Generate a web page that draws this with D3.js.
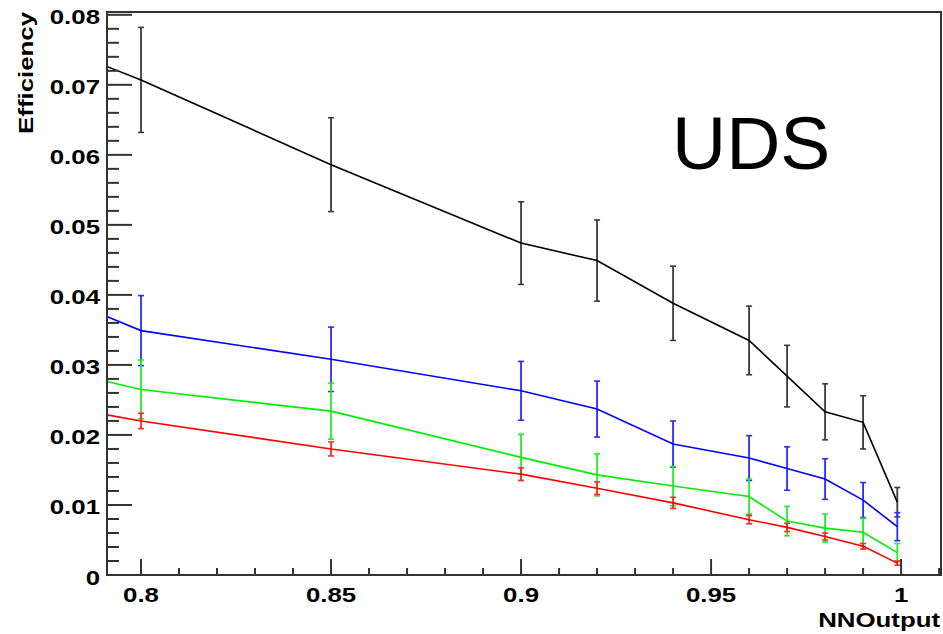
<!DOCTYPE html>
<html>
<head>
<meta charset="utf-8">
<script src="https://cdn.jsdelivr.net/npm/d3@7"></script>
<style>
  body { margin: 0; background: #fff; }
  text { font-family: "Liberation Sans", Arial, sans-serif; }
</style>
</head>
<body>
<div id="chart"></div>
<script>
// NN output cut values (first point lies left of the frame and is clipped)
var cuts = [0.75, 0.8, 0.85, 0.9, 0.92, 0.94, 0.96, 0.97, 0.98, 0.99, 0.999];

var effBlack = [0.0814, 0.0707, 0.0586, 0.0474, 0.0449, 0.0388, 0.0335, 0.0284, 0.0233, 0.0218, 0.0104];
var errBlack = [0.0085, 0.0075, 0.0067, 0.0059, 0.0058, 0.0053, 0.0049, 0.0044, 0.0040, 0.0038, 0.0021];

var effBlue = [0.0461, 0.0349, 0.0308, 0.0263, 0.0237, 0.0187, 0.0167, 0.0152, 0.0137, 0.0107, 0.0069];
var errBlue = [0.0055, 0.0050, 0.0046, 0.0042, 0.0040, 0.0033, 0.0032, 0.0031, 0.0029, 0.0025, 0.0020];

var effGreen = [0.0328, 0.0265, 0.0234, 0.0168, 0.0143, 0.0127, 0.0112, 0.0077, 0.0067, 0.0061, 0.0032];
var errGreen = [0.0045, 0.0042, 0.0040, 0.0033, 0.0030, 0.0028, 0.0025, 0.0021, 0.0020, 0.0020, 0.0013];

var effRed = [0.0268, 0.0220, 0.0180, 0.0144, 0.0124, 0.0103, 0.0079, 0.0068, 0.0055, 0.0041, 0.0017];
var errRed = [0.0012, 0.0011, 0.0010, 0.0009, 0.0009, 0.0008, 0.0006, 0.0006, 0.0005, 0.0004, 0.0003];

var xMajor = [0.8, 0.85, 0.9, 0.95, 1];
var xLabels = ["0.8", "0.85", "0.9", "0.95", "1"];
var yMajor = [0, 0.01, 0.02, 0.03, 0.04, 0.05, 0.06, 0.07, 0.08];
var yLabels = ["0", "0.01", "0.02", "0.03", "0.04", "0.05", "0.06", "0.07", "0.08"];

var series = [
  {color: "#000000", barColor: "#3a3a3a", eff: effBlack, err: errBlack},
  {color: "#0000ff", barColor: "#2a2aff", eff: effBlue, err: errBlue},
  {color: "#00ee00", barColor: "#22ee22", eff: effGreen, err: errGreen},
  {color: "#ff0000", barColor: "#ff2a2a", eff: effRed, err: errRed}
];

const W = 943, H = 634;
const frame = {left: 107, right: 941, top: 12, bottom: 575};

var svg = d3.select("#chart").append("svg")
  .attr("width", W)
  .attr("height", H);

svg.append("rect").attr("width", W).attr("height", H).attr("fill", "#fff");

var x = d3.scaleLinear().domain([0.79105, 1.0105]).range([frame.left, frame.right]);
var y = d3.scaleLinear().domain([0, 0.0804]).range([frame.bottom, frame.top]);

svg.append("clipPath").attr("id", "clip")
  .append("rect")
  .attr("x", frame.left).attr("y", frame.top)
  .attr("width", frame.right - frame.left)
  .attr("height", frame.bottom - frame.top);

var plot = svg.append("g").attr("clip-path", "url(#clip)");

var line = d3.line()
  .x(function(d) { return x(d.x); })
  .y(function(d) { return y(d.v); });

series.forEach(function(s) {
  var pts = cuts.map(function(c, i) {
    return {x: c, v: s.eff[i], e: s.err[i]};
  });

  var bars = plot.append("g");
  pts.forEach(function(p) {
    var px = x(p.x);
    bars.append("line")
      .attr("x1", px).attr("x2", px)
      .attr("y1", y(p.v - p.e)).attr("y2", y(p.v + p.e))
      .attr("stroke", s.barColor).attr("stroke-width", 1.8);
    [p.v - p.e, p.v + p.e].forEach(function(v) {
      bars.append("line")
        .attr("x1", px - 3).attr("x2", px + 3)
        .attr("y1", y(v)).attr("y2", y(v))
        .attr("stroke", s.barColor).attr("stroke-width", 1.6);
    });
  });

  plot.append("path")
    .datum(pts)
    .attr("d", line)
    .attr("fill", "none")
    .attr("stroke", s.color)
    .attr("stroke-width", 1.6);
});

// frame
svg.append("rect")
  .attr("x", frame.left).attr("y", frame.top)
  .attr("width", frame.right - frame.left)
  .attr("height", frame.bottom - frame.top)
  .attr("fill", "none")
  .attr("stroke", "#333")
  .attr("stroke-width", 2);

// y ticks (inward)
var yMinor = d3.range(0, 41).map(function(i) { return i * 0.002; });
var yAxis = svg.append("g").attr("stroke", "#333").attr("stroke-width", 2);
yMinor.forEach(function(v, i) {
  var len = (i % 5 === 0) ? 25 : 12;
  yAxis.append("line")
    .attr("x1", frame.left).attr("x2", frame.left + len)
    .attr("y1", y(v)).attr("y2", y(v));
});

// x ticks (inward)
var xMinor = d3.range(80, 102).map(function(i) { return i / 100; });
var xAxis = svg.append("g").attr("stroke", "#333").attr("stroke-width", 2);
xMinor.forEach(function(v, i) {
  var len = (i % 5 === 0) ? 16 : 7;
  xAxis.append("line")
    .attr("x1", x(v)).attr("x2", x(v))
    .attr("y1", frame.bottom).attr("y2", frame.bottom - len);
});

// tick labels, slightly stretched like the original
const stretch = 1.23;
yMajor.forEach(function(v, i) {
  svg.append("text")
    .attr("transform", "translate(100," + (y(v) + 9.5) + ") scale(" + stretch + ",1)")
    .attr("text-anchor", "end")
    .attr("font-size", 21)
    .attr("font-weight", "bold")
    .text(yLabels[i]);
});

xMajor.forEach(function(v, i) {
  svg.append("text")
    .attr("transform", "translate(" + x(v) + ",602) scale(" + stretch + ",1)")
    .attr("text-anchor", "middle")
    .attr("font-size", 21)
    .attr("font-weight", "bold")
    .text(xLabels[i]);
});

// axis titles
svg.append("text")
  .attr("transform", "translate(940,627) scale(" + stretch + ",1)")
  .attr("text-anchor", "end")
  .attr("font-size", 21)
  .attr("font-weight", "bold")
  .text("NNOutput");

svg.append("text")
  .attr("transform", "translate(33,12) rotate(-90) scale(" + stretch + ",1)")
  .attr("text-anchor", "end")
  .attr("font-size", 21)
  .attr("font-weight", "bold")
  .text("Efficiency");

svg.append("text")
  .attr("x", 672)
  .attr("y", 169)
  .attr("font-size", 75)
  .text("UDS");
</script>
</body>
</html>
